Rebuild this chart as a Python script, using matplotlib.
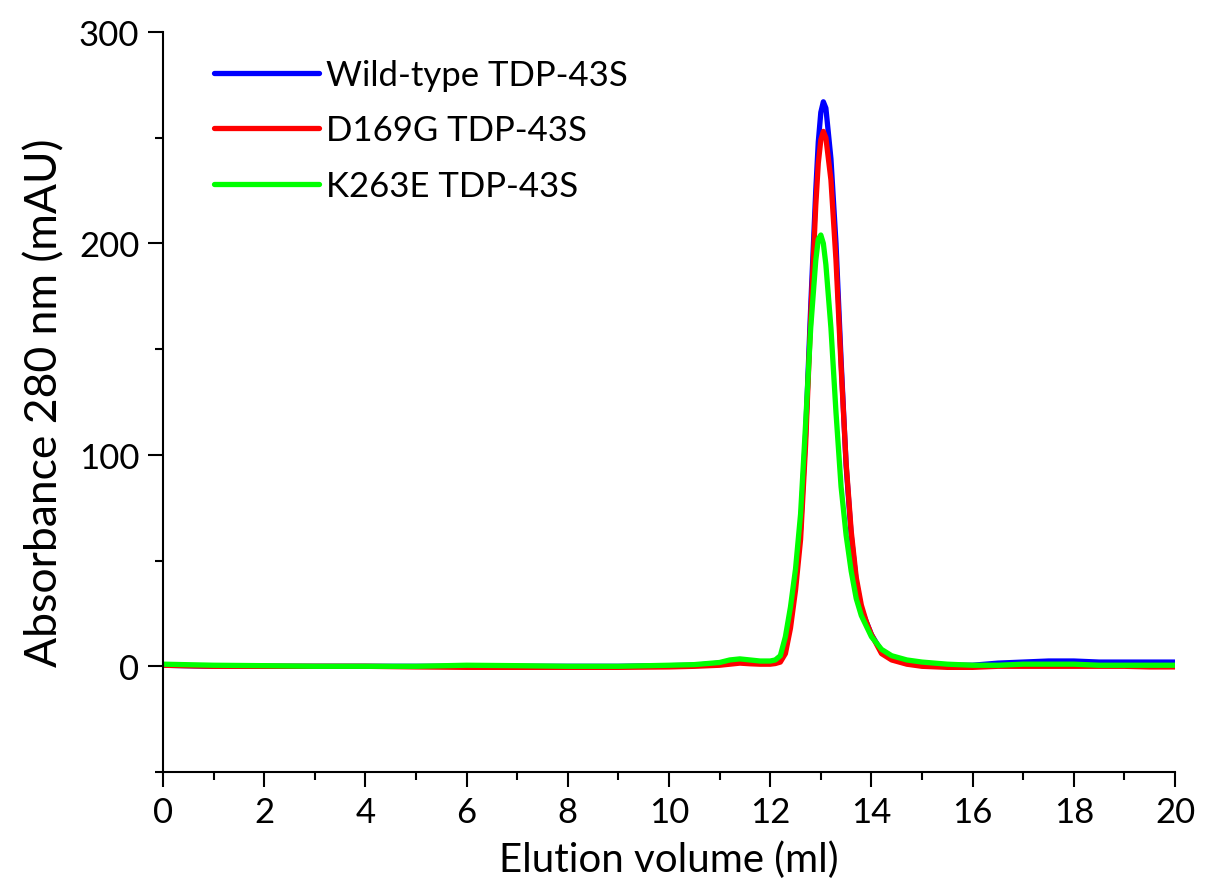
import matplotlib
matplotlib.use("Agg")
import matplotlib.pyplot as plt
from matplotlib.ticker import MultipleLocator

plt.rcParams['font.family'] = ['Lato', 'DejaVu Sans']

# elution volume (ml), denser around the main peak
volume = [0, 1, 2, 3, 4, 5, 6, 7, 8, 9, 10, 10.5, 11.0, 11.2, 11.4, 11.6, 11.8,
          12.0, 12.1, 12.2, 12.3, 12.4, 12.5, 12.6, 12.7, 12.8, 12.9, 12.95,
          13.0, 13.05, 13.1, 13.2, 13.3, 13.4, 13.5, 13.6, 13.7, 13.8, 13.9,
          14.0, 14.2, 14.4, 14.7, 15.0, 15.5, 16, 16.5, 17, 17.5, 18, 18.5,
          19, 19.5, 20]

wild_type = [0.5, 0, 0, 0, 0, 0, 0, 0, 0, 0, 0.3, 0.5, 1.5, 2.5, 3, 2.5, 2,
             2, 2.5, 4, 10, 22, 40, 65, 110, 170, 225, 248,
             262, 267, 264, 240, 200, 145, 95, 62, 40, 27, 21,
             15, 7, 3.5, 2, 1, 0.5, 0.5, 1.5, 2, 2.5, 2.5, 2,
             2, 2, 2]

d169g = [0.5, 0, 0, 0, 0, -0.3, -0.5, -0.5, -0.5, -0.5, -0.3, 0, 0.5, 1, 1.5, 1.2, 1,
         1, 1.3, 2, 6, 18, 36, 60, 105, 165, 218, 238,
         249, 253, 250, 230, 192, 142, 96, 64, 42, 29, 21,
         15, 6, 3, 1, 0, -0.5, -0.5, 0, 0, 0, 0, 0,
         0, -0.3, -0.3]

k263e = [1, 0.5, 0.3, 0, 0, 0, 0.5, 0.3, 0, 0, 0.5, 0.8, 1.8, 3, 3.5, 3, 2.5,
         2.5, 3, 5, 14, 28, 46, 72, 115, 160, 192, 202,
         204, 200, 190, 160, 120, 85, 62, 45, 32, 24, 19,
         14, 8, 5, 3, 2, 1, 0.5, 0.5, 1, 1, 1, 0.5,
         0.5, 0.5, 0.5]

series = [("Wild-type TDP-43S", wild_type, "#0000ff"),
          ("D169G TDP-43S", d169g, "#ff0000"),
          ("K263E TDP-43S", k263e, "#00ff00")]

fig = plt.figure(figsize=(12.11, 8.95), dpi=100)
ax = fig.add_axes([0.1346, 0.1363, 0.9703 - 0.1346, 0.9631 - 0.1363])

for name, vals, col in series:
    ax.plot(volume, vals, color=col, lw=3.8, label=name,
            solid_joinstyle='round', solid_capstyle='round')

ax.set_xlim(0, 20)
ax.set_ylim(-50, 300)
ax.xaxis.set_major_locator(MultipleLocator(2))
ax.xaxis.set_minor_locator(MultipleLocator(1))
ax.yaxis.set_major_locator(MultipleLocator(100))
ax.yaxis.set_minor_locator(MultipleLocator(50))

for s in ['top', 'right']:
    ax.spines[s].set_visible(False)
for s in ['left', 'bottom']:
    ax.spines[s].set_linewidth(1.5)

ax.tick_params(which='major', direction='out', length=11, width=1.5,
               labelsize=25, pad=6)
ax.tick_params(which='minor', direction='out', length=6, width=1.5)

ax.set_xlabel("Elution volume (ml)", fontsize=29, labelpad=9)
ax.set_ylabel("Absorbance 280 nm (mAU)", fontsize=32, labelpad=10)

leg = ax.legend(loc='upper left', frameon=False, fontsize=25,
                handlelength=3.0, handletextpad=0.2, labelspacing=0.68,
                bbox_to_anchor=(0.02, 1.006))
for h in leg.get_lines():
    h.set_linewidth(3.8)

fig.savefig("out.png", dpi=100)
